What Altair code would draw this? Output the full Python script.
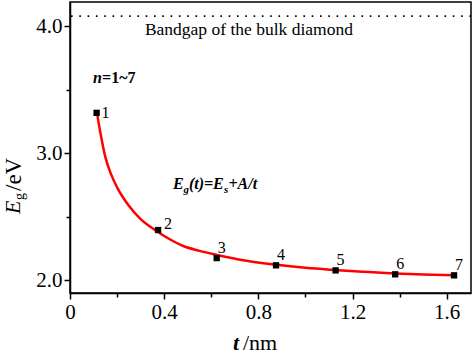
import altair as alt
import pandas as pd

# ---- data ----
t_nm = [0.113, 0.374, 0.623, 0.875, 1.128, 1.381, 1.631]
eg_ev = [3.317, 2.394, 2.173, 2.116, 2.076, 2.045, 2.037]
point_labels = ["1", "2", "3", "4", "5", "6", "7"]

# red fitted curve, read along its length
fit_t = [0.115, 0.13, 0.15, 0.175, 0.20, 0.25, 0.30, 0.361, 0.42, 0.481, 0.55, 0.624,
         0.75, 0.878, 1.00, 1.104, 1.25, 1.38, 1.50, 1.631]
fit_e = [3.313, 3.15, 2.97, 2.83, 2.73, 2.585, 2.48, 2.394, 2.325, 2.268, 2.23, 2.198,
         2.152, 2.120, 2.097, 2.082, 2.065, 2.052, 2.044, 2.037]

bulk_gap = [4.079]
bulk_text = ["Bandgap of the bulk diamond"]

x_ticks = [0.0, 0.2, 0.4, 0.6, 0.8, 1.0, 1.2, 1.4, 1.6]
y_ticks = [2.0, 2.5, 3.0, 3.5, 4.0]

FONT = "Liberation Serif"

pts = pd.DataFrame({"t": t_nm, "E": eg_ev, "lab": point_labels})
fit = pd.DataFrame({"t": fit_t, "E": fit_e})

xs = alt.Scale(domain=[0, 1.703], nice=False, zero=False)
ys = alt.Scale(domain=[1.898, 4.19], nice=False, zero=False)

x_axis = alt.Axis(
    values=x_ticks, title=None, grid=False, labelFlush=False, labelOverlap=False,
    labelFont=FONT, labelFontSize=21, labelColor="black",
    labelExpr="round(datum.value*10) % 4 == 0 ? (datum.value == 0 ? '0' : format(datum.value, '.1f')) : ''",
    tickSize={"condition": {"test": "round(datum.value*10) % 4 == 0", "value": 6}, "value": 4},
    labelPadding=2,
)
y_axis = alt.Axis(
    values=y_ticks, title=None, grid=False, labelOverlap=False,
    labelFont=FONT, labelFontSize=21, labelColor="black",
    labelExpr="round(datum.value*10) % 10 == 0 ? format(datum.value, '.1f') : ''",
    tickSize={"condition": {"test": "round(datum.value*10) % 10 == 0", "value": 6}, "value": 4},
    labelPadding=2,
)

X = alt.X("t:Q", scale=xs, axis=x_axis)
Y = alt.Y("E:Q", scale=ys, axis=y_axis)

rule = alt.Chart(pd.DataFrame({"E": bulk_gap})).mark_rule(
    color="black", strokeWidth=1.6, strokeDash=[1.6, 6.7]
).encode(y=alt.Y("E:Q", scale=ys, axis=y_axis))

bulk_lbl = alt.Chart(pd.DataFrame({"t": [0.318], "E": [3.929], "txt": bulk_text})).mark_text(
    font=FONT, fontSize=17.5, align="left", baseline="alphabetic", color="black"
).encode(x=X, y=Y, text="txt:N")

line = alt.Chart(fit).mark_line(color="#ff0000", strokeWidth=2.5, interpolate="monotone").encode(x=X, y=Y)

squares = alt.Chart(pts).mark_square(size=40, color="black", opacity=1).encode(x=X, y=Y)

lab1 = alt.Chart(pts).transform_filter("datum.lab == '1'").mark_text(
    font=FONT, fontSize=16, align="center", baseline="middle", dx=9, dy=0, color="black"
).encode(x=X, y=Y, text="lab:N")
lab2 = alt.Chart(pts).transform_filter("datum.lab == '2'").mark_text(
    font=FONT, fontSize=16, align="center", baseline="middle", dx=10, dy=-6, color="black"
).encode(x=X, y=Y, text="lab:N")
lab3 = alt.Chart(pts).transform_filter("datum.lab != '1' && datum.lab != '2'").mark_text(
    font=FONT, fontSize=16, align="center", baseline="middle", dx=5, dy=-10, color="black"
).encode(x=X, y=Y, text="lab:N")

# n = 1~7 annotation
n_df = pd.DataFrame({"t": [0.098], "E": [3.554]})
n1 = alt.Chart(n_df).mark_text(font=FONT, fontSize=16, fontWeight="bold", fontStyle="italic",
                               align="left", baseline="alphabetic", color="black", text="n").encode(x=X, y=Y)
n2 = alt.Chart(n_df).mark_text(font=FONT, fontSize=16, fontWeight="bold",
                               align="left", baseline="alphabetic", color="black", text="=1~7", dx=9).encode(x=X, y=Y)

# Eg(t)=Es+A/t
eq_df = pd.DataFrame({"t": [0.437], "E": [2.714]})
eq_parts = [("E", 16, 0, 0), ("g", 11, 10.5, 4), ("(t)=E", 16, 16, 0), ("s", 11, 51, 4), ("+A/t", 16, 55.5, 0)]
eq_layers = [
    alt.Chart(eq_df).mark_text(font=FONT, fontSize=fs, fontWeight="bold", fontStyle="italic",
                               align="left", baseline="alphabetic", color="black", text=txt, dx=dx, dy=dy
                               ).encode(x=X, y=Y)
    for txt, fs, dx, dy in eq_parts
]

# axis titles as text pieces
one = pd.DataFrame({"k": [0]})
yt_parts = [("E", 22, "italic", "normal", -50, 212), ("g", 14, "normal", "normal", -46, 198),
            ("/eV", 23, "normal", "normal", -49, 189)]
yt_layers = [
    alt.Chart(one).mark_text(font=FONT, fontSize=fs, fontStyle=st, fontWeight=wt, angle=270,
                             align="left", baseline="alphabetic", color="black", text=txt
                             ).encode(x=alt.value(px), y=alt.value(py))
    for txt, fs, st, wt, px, py in yt_parts
]
xt_parts = [("t", 22, "italic", "bold", 163, 348), ("/nm", 22, "normal", "normal", 173, 348)]
xt_layers = [
    alt.Chart(one).mark_text(font=FONT, fontSize=fs, fontStyle=st, fontWeight=wt,
                             align="left", baseline="alphabetic", color="black", text=txt
                             ).encode(x=alt.value(px), y=alt.value(py))
    for txt, fs, st, wt, px, py in xt_parts
]

chart = alt.layer(
    rule, bulk_lbl, line, squares, lab1, lab2, lab3, n1, n2, *eq_layers, *yt_layers, *xt_layers
).properties(
    width=401, height=291,
    autosize=alt.AutoSizeParams(type="none"),
    padding={"left": 70, "top": 2, "right": 2, "bottom": 63},
    background="white",
).configure_view(
    stroke="black", strokeWidth=1.5
).configure_axis(
    domainColor="black", domainWidth=1.5, tickColor="black", tickWidth=1.5,
    labelFont=FONT, labelFontSize=21, labelColor="black",
)

chart.save("out.html", embed_options={"renderer": "svg", "actions": False})
